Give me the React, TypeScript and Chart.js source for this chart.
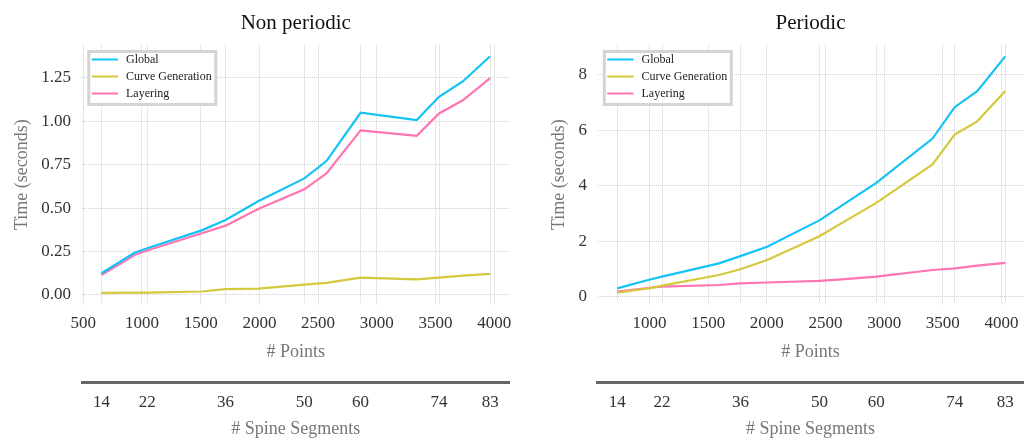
import React, { useEffect, useRef } from "react";
import { Chart, registerables } from "chart.js";

Chart.register(...registerables);

// ---------- data ----------
const seriesLabels = ["Global", "Curve Generation", "Layering"];
const seriesColors = ["#14c3f5", "#d4c93c", "#ff74b2"];

const leftPoints = [655, 937, 1045, 1509, 1712, 1990, 2383, 2571, 2862, 3340, 3530, 3732, 3965];
const leftGlobal = [0.125, 0.243, 0.269, 0.372, 0.432, 0.54, 0.671, 0.771, 1.049, 1.007, 1.141, 1.229, 1.374];
const leftCurve = [0.012, 0.013, 0.014, 0.02, 0.034, 0.037, 0.06, 0.07, 0.1, 0.09, 0.1, 0.111, 0.121];
const leftLayering = [0.115, 0.23, 0.256, 0.355, 0.399, 0.495, 0.608, 0.7, 0.948, 0.916, 1.045, 1.121, 1.249];

const rightPoints = [725, 1004, 1107, 1592, 1775, 2003, 2448, 2638, 2933, 3412, 3601, 3793, 4032];
const rightGlobal = [0.3, 0.62, 0.72, 1.2, 1.46, 1.8, 2.75, 3.28, 4.1, 5.7, 6.83, 7.41, 8.66];
const rightCurve = [0.14, 0.31, 0.4, 0.78, 0.99, 1.32, 2.18, 2.65, 3.38, 4.77, 5.84, 6.32, 7.41];
const rightLayering = [0.18, 0.32, 0.36, 0.42, 0.48, 0.51, 0.57, 0.62, 0.72, 0.96, 1.02, 1.12, 1.22];

const spineLabels = ["14", "22", "36", "50", "60", "74", "83"];
const leftSpinePoints = [655, 1045, 1712, 2383, 2862, 3530, 3965];
const rightSpinePoints = [725, 1107, 1775, 2448, 2933, 3601, 4032];

const leftXTicks = [500, 1000, 1500, 2000, 2500, 3000, 3500, 4000];
const rightXTicks = [1000, 1500, 2000, 2500, 3000, 3500, 4000];
const leftYTicks = [0, 0.25, 0.5, 0.75, 1.0, 1.25];
const rightYTicks = [0, 2, 4, 6, 8];

const FONT = "'Liberation Serif', 'Times New Roman', serif";
const GRID = "#cfcfcf";

type Panel = {
  title: string;
  points: number[];
  series: number[][];
  spinePoints: number[];
  xTicks: number[];
  yTicks: number[];
  yDecimals: number;
  xMin: number;
  xMax: number;
  yMin: number;
  yMax: number;
  width: number;
  yAxisWidth: number;
  padRight: number;
  yTitlePad: number;
  yTickPad: number;
};

const titlePlugin = {
  id: "panelTitle",
  afterDraw(chart: any, _args: any, opts: any) {
    const { ctx, chartArea } = chart;
    ctx.save();
    ctx.font = `21px ${FONT}`;
    ctx.fillStyle = "#111";
    ctx.textAlign = "center";
    ctx.textBaseline = "alphabetic";
    ctx.fillText(opts.text, (chartArea.left + chartArea.right) / 2, 28.5);
    ctx.restore();
  },
};

const boxLegendPlugin = {
  id: "boxLegend",
  afterDatasetsDraw(chart: any) {
    const { ctx, chartArea } = chart;
    const x0 = chartArea.left + 5.3;
    const y0 = chartArea.top + 5.5;
    const w = 130;
    const h = 56;
    ctx.save();
    ctx.fillStyle = "#ffffff";
    ctx.fillRect(x0, y0, w, h);
    ctx.strokeStyle = "#d4d4d4";
    ctx.lineWidth = 3;
    ctx.strokeRect(x0 + 1.5, y0 + 1.5, w - 3, h - 3);
    ctx.font = `12px ${FONT}`;
    ctx.textBaseline = "middle";
    ctx.textAlign = "left";
    chart.data.datasets.forEach((ds: any, i: number) => {
      const y = y0 + 9.5 + 17 * i;
      ctx.strokeStyle = ds.borderColor;
      ctx.lineWidth = 2;
      ctx.beginPath();
      ctx.moveTo(x0 + 4.4, y);
      ctx.lineTo(x0 + 30.7, y);
      ctx.stroke();
      ctx.fillStyle = "#222";
      ctx.fillText(ds.label, x0 + 38.7, y + 0.5);
    });
    ctx.restore();
  },
};

function makeConfig(p: Panel): any {
  return {
    type: "line",
    data: {
      datasets: seriesLabels.map((label, i) => ({
        label,
        data: p.points.map((x, j) => ({ x, y: p.series[i][j] })),
        borderColor: seriesColors[i],
        backgroundColor: seriesColors[i],
        borderWidth: 2.2,
        pointRadius: 0,
        tension: 0,
        fill: false,
      })),
    },
    options: {
      responsive: false,
      animation: false,
      devicePixelRatio: 1,
      layout: { padding: { top: 44.5, right: p.padRight, bottom: 0, left: 0 } },
      plugins: {
        legend: { display: false },
        title: { display: false },
        tooltip: { enabled: false },
        panelTitle: { text: p.title },
      },
      scales: {
        x: {
          type: "linear",
          position: "bottom",
          weight: 0,
          min: p.xMin,
          max: p.xMax,
          afterBuildTicks: (s: any) => {
            s.ticks = p.xTicks.map((v) => ({ value: v }));
          },
          afterFit: (s: any) => {
            s.height = 77.3;
          },
          grid: { color: GRID, lineWidth: 1, drawTicks: false },
          border: { display: false, dash: [1, 1] },
          ticks: {
            autoSkip: false,
            maxRotation: 0,
            padding: 8.5,
            color: "#333",
            font: { family: FONT, size: 17 },
            callback: (v: any) => String(v),
          },
          title: {
            display: true,
            text: "# Points",
            color: "#777",
            font: { family: FONT, size: 18 },
            padding: { top: 0, bottom: 18.5 },
          },
        },
        x2: {
          type: "linear",
          axis: "x",
          position: "bottom",
          weight: 1,
          min: p.xMin,
          max: p.xMax,
          afterBuildTicks: (s: any) => {
            s.ticks = p.spinePoints.map((v) => ({ value: v }));
          },
          afterFit: (s: any) => {
            s.height = 59;
          },
          grid: { color: GRID, lineWidth: 1, drawTicks: false, drawOnChartArea: true },
          border: { display: true, color: "#666", width: 3, dash: [1, 1] },
          ticks: {
            autoSkip: false,
            maxRotation: 0,
            padding: 10,
            color: "#333",
            font: { family: FONT, size: 17 },
            callback: (_v: any, i: number) => spineLabels[i],
          },
          title: {
            display: true,
            text: "# Spine Segments",
            color: "#777",
            font: { family: FONT, size: 18 },
            padding: { top: 0, bottom: 0.5 },
          },
        },
        y: {
          type: "linear",
          position: "left",
          min: p.yMin,
          max: p.yMax,
          afterBuildTicks: (s: any) => {
            s.ticks = p.yTicks.map((v) => ({ value: v }));
          },
          afterFit: (s: any) => {
            s.width = p.yAxisWidth;
          },
          grid: { color: GRID, lineWidth: 1, drawTicks: false },
          border: { display: false, dash: [1, 1] },
          ticks: {
            padding: p.yTickPad,
            color: "#333",
            font: { family: FONT, size: 17 },
            callback: (v: any) => Number(v).toFixed(p.yDecimals),
          },
          title: {
            display: true,
            text: "Time (seconds)",
            color: "#777",
            font: { family: FONT, size: 18 },
            padding: { top: p.yTitlePad, bottom: 0 },
          },
        },
      },
    },
    plugins: [titlePlugin, boxLegendPlugin],
  };
}

const leftPanel: Panel = {
  title: "Non periodic",
  points: leftPoints,
  series: [leftGlobal, leftCurve, leftLayering],
  spinePoints: leftSpinePoints,
  xTicks: leftXTicks,
  yTicks: leftYTicks,
  yDecimals: 2,
  xMin: 489.5,
  xMax: 4130.5,
  yMin: -0.056,
  yMax: 1.442,
  width: 520,
  yAxisWidth: 82,
  padRight: 7.2,
  yTitlePad: 11.5,
  yTickPad: 11,
};

const rightPanel: Panel = {
  title: "Periodic",
  points: rightPoints,
  series: [rightGlobal, rightCurve, rightLayering],
  spinePoints: rightSpinePoints,
  xTicks: rightXTicks,
  yTicks: rightYTicks,
  yDecimals: 0,
  xMin: 557,
  xMax: 4187,
  yMin: -0.29,
  yMax: 9.09,
  width: 507,
  yAxisWidth: 77.5,
  padRight: 0,
  yTitlePad: 28,
  yTickPad: 10.5,
};

function PanelChart({ panel, left }: { panel: Panel; left: number }) {
  const ref = useRef<HTMLCanvasElement | null>(null);
  useEffect(() => {
    if (!ref.current) return;
    const chart = new Chart(ref.current, makeConfig(panel));
    return () => chart.destroy();
  }, [panel]);
  return (
    <div style={{ position: "absolute", left, top: 0, width: panel.width, height: 441 }}>
      <canvas ref={ref} width={panel.width} height={441} style={{ width: panel.width, height: 441, display: "block" }} />
    </div>
  );
}

export default function App() {
  return (
    <div style={{ position: "absolute", left: 0, top: 0, width: 1027, height: 441, overflow: "hidden", background: "#fff" }}>
      <PanelChart panel={leftPanel} left={0} />
      <PanelChart panel={rightPanel} left={520} />
    </div>
  );
}
